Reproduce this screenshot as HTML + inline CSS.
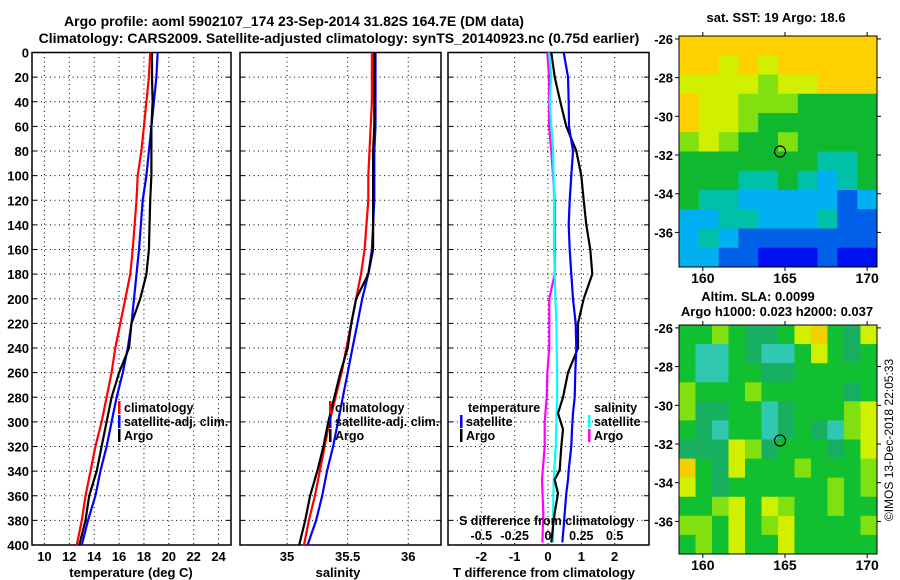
<!DOCTYPE html>
<html><head><meta charset="utf-8"><style>
body{margin:0;background:#fff}
svg{display:block;font-family:"Liberation Sans",sans-serif;font-weight:bold}
</style></head><body>
<svg id="chart" width="900" height="580" viewBox="0 0 900 580">
<text x="294" y="26" font-size="14" text-anchor="middle">Argo profile: aoml 5902107_174 23-Sep-2014 31.82S 164.7E (DM data)</text>
<text x="339" y="43" font-size="14" text-anchor="middle">Climatology: CARS2009. Satellite-adjusted climatology: synTS_20140923.nc (0.75d earlier)</text>
<text x="776" y="22" font-size="13" text-anchor="middle">sat. SST: 19 Argo: 18.6</text>
<text x="758" y="301" font-size="13" text-anchor="middle">Altim. SLA: 0.0099</text>
<text x="777" y="316" font-size="13" text-anchor="middle">Argo h1000: 0.023 h2000: 0.037</text>
<text transform="translate(893,440) rotate(-90)" font-size="12" font-weight="normal" text-anchor="middle">©IMOS 13-Dec-2018 22:05:33</text>
<g id="g"></g>
</svg>
<script>
// depth levels (m)
const depthA = [0,20,40,60,80,100,120,160,180,200,220,240,260,280,300,320,340,360,380,400];
const tempClim = [18.5,18.4,18.2,18.0,17.8,17.5,17.4,17.1,16.9,16.5,16.1,15.7,15.4,15.0,14.6,14.1,13.7,13.3,13.0,12.6];
const tempSat  = [19.1,19.0,18.8,18.6,18.4,18.2,17.9,17.6,17.4,17.2,17.0,16.7,16.3,15.8,15.4,15.0,14.5,14.1,13.5,13.0];
const tempArgo = [18.65,18.65,18.7,18.6,18.6,18.6,18.5,18.4,18.2,17.7,17.0,16.8,16.0,15.4,15.0,14.6,14.2,13.6,13.3,12.8];
const salClim = [35.70,35.70,35.70,35.69,35.68,35.67,35.67,35.64,35.61,35.57,35.53,35.49,35.45,35.40,35.35,35.31,35.27,35.23,35.18,35.14];
const salSat  = [35.73,35.73,35.73,35.73,35.72,35.72,35.72,35.70,35.67,35.62,35.58,35.54,35.50,35.46,35.42,35.38,35.33,35.29,35.24,35.17];
const salArgo = [35.72,35.72,35.72,35.72,35.71,35.71,35.71,35.71,35.67,35.57,35.53,35.50,35.44,35.39,35.34,35.30,35.25,35.19,35.15,35.10];
// difference panel
const depthT = [0,20,40,60,80,100,120,140,160,180,200,220,240,260,280,293,306,320,339,347,358,374,385,398];
const tDiffArgo = [0.10,0.20,0.37,0.55,0.85,1.0,1.07,1.15,1.27,1.33,1.07,0.90,0.90,0.60,0.45,0.30,0.45,0.40,0.35,0.20,0.30,0.20,0.15,0.10];
const tDiffSat  = [0.47,0.60,0.62,0.63,0.75,0.70,0.65,0.62,0.65,0.70,0.75,0.83,0.85,0.82,0.80,0.75,0.72,0.70,0.62,0.60,0.55,0.50,0.47,0.43];
const depthS = [0,20,40,60,80,120,160,180,200,220,240,260,280,300,320,347,374,398];
const sDiffSat  = [0.008,0.025,0.013,0.025,0.038,0.045,0.045,0.05,0.055,0.063,0.065,0.068,0.068,0.063,0.058,0.043,0.038,0.038];
const sDiffArgo = [-0.005,0.008,0.008,0.008,0.025,0.05,0.05,0.05,0.01,0.01,0.01,-0.005,-0.01,-0.025,-0.025,-0.045,-0.035,-0.042];
const tempTicks = [10,12,14,16,18,20,22,24];
const salTicks = [35,35.5,36];
const tdTicks = [-2,-1,0,1,2];
const sdTicks = [-0.5,-0.25,0,0.25,0.5];
const depthTicks = [0,20,40,60,80,100,120,140,160,180,200,220,240,260,280,300,320,340,360,380,400];
const lonTicks = [160,165,170];
const latTicks = [-26,-28,-30,-32,-34,-36];
// map fields (rows from -26 southwards), category index into palette
const sstGrid = [
"7777777777","7767677777","6666566777","7665554444","7665444444","5654454444",
"4444444334","4443343234","4332222212","2233222311","2321111111","2211000100"];
const slaGrid = [
"223211245214","200210024212","200221122222","322232222212","311220122234","210220121034",
"111431222124","521422232223","421222222323","223424322322","332423422223","232422422222"];
const sstPalette = ["#0010f0","#0060e8","#00b0f0","#00c0a8","#10b830","#80e010","#d0f000","#ffd000"];
const slaPalette = ["#30c8b0","#18b060","#10c030","#80e010","#d0f000","#f0d000"];

const NS="http://www.w3.org/2000/svg";
const G=document.getElementById('g');
function mk(t,a,p){const e=document.createElementNS(NS,t);for(const k in a)e.setAttribute(k,a[k]);(p||G).appendChild(e);return e;}
const y0=52.5,y1=545;
const yD=d=>y0+(y1-y0)*d/400;
const panels=[
 {x0:32,x1:231,min:9,max:25,name:'temperature-panel'},
 {x0:240,x1:441,min:34.612,max:36.27,name:'salinity-panel'},
 {x0:448,x1:649,min:-3,max:3.03,name:'difference-panel'}];
function xf(p,v){return p.x0+(v-p.min)/(p.max-p.min)*(p.x1-p.x0);}
function line(p,xs,ds,col,name,scale){
  const pts=xs.map((v,i)=>xf(p,v*(scale||1)).toFixed(1)+','+yD(ds[i]).toFixed(1)).join(' ');
  const l=mk('polyline',{points:pts,fill:'none',stroke:col,'stroke-width':2.2});
  
  
}
function txt(x,y,s,anchor,size,name,col){const t=mk('text',{x:x,y:y,'font-size':size||13,'text-anchor':anchor||'start',fill:col||'#000'});t.textContent=s;
  
  return t;}
panels.forEach((p,pi)=>{
  const r=mk('rect',{x:p.x0,y:y0,width:p.x1-p.x0,height:y1-y0,fill:'#fff',stroke:'#000','stroke-width':1.5});
  
  
  depthTicks.forEach(d=>{ if(d>0&&d<400){const l=mk('line',{x1:p.x0,x2:p.x1,y1:yD(d),y2:yD(d),stroke:'#000','stroke-dasharray':'1,3.5','stroke-width':1});
    
    }
    mk('line',{x1:p.x0,x2:p.x0+5,y1:yD(d),y2:yD(d),stroke:'#000'});mk('line',{x1:p.x1-5,x2:p.x1,y1:yD(d),y2:yD(d),stroke:'#000'});
    if(pi==0) txt(29,yD(d)+5,String(d),'end',13,'depth-tick-label');
  });
  const ticks=pi==0?tempTicks:pi==1?salTicks:tdTicks;
  ticks.forEach(v=>{const x=xf(p,v);
    const l=mk('line',{x1:x,x2:x,y1:y0,y2:y1,stroke:'#000','stroke-dasharray':'1,3.5','stroke-width':1});
    
    
    txt(x,561,String(v),'middle',13,'x-tick-label');});
});
txt(131,577,'temperature (deg C)','middle',13,'x-axis-title-temperature');
txt(338,577,'salinity','middle',13,'x-axis-title-salinity');
txt(544,577,'T difference from climatology','middle',13,'x-axis-title-tdiff');
const P=panels;
line(P[0],tempClim,depthA,'#ff0000','temp-climatology-line');
line(P[0],tempSat,depthA,'#0000ff','temp-satellite-line');
line(P[0],tempArgo,depthA,'#000','temp-argo-line');
line(P[1],salClim,depthA,'#ff0000','sal-climatology-line');
line(P[1],salSat,depthA,'#0000ff','sal-satellite-line');
line(P[1],salArgo,depthA,'#000','sal-argo-line');
line(P[2],sDiffArgo,depthS,'#ff00ff','sdiff-argo-line',4);
line(P[2],sDiffSat,depthS,'#00ffff','sdiff-satellite-line',4);
line(P[2],tDiffArgo,depthT,'#000','tdiff-argo-line');
line(P[2],tDiffSat,depthT,'#0000ff','tdiff-satellite-line');
// S axis inside
txt(459,525,'S difference from climatology','start',12.5,'s-axis-title');
sdTicks.forEach(v=>txt(xf(P[2],v*4),540,String(v),'middle',12.5,'s-tick-label'));
function leg(x,y,col,label,name){const r=mk('rect',{x:x,y:y-11,width:2.5,height:13,fill:col});
  txt(x+6,y,label,'start',12.5,name);}
leg(118,412,'#ff0000','climatology','legend-climatology');
leg(118,426,'#0000ff','satellite-adj. clim.','legend-satellite-adj');
leg(118,440,'#000','Argo','legend-argo');
leg(329,412,'#ff0000','climatology','legend2-climatology');
leg(329,426,'#0000ff','satellite-adj. clim.','legend2-satellite-adj');
leg(329,440,'#000','Argo','legend2-argo');
txt(468,412,'temperature','start',12.5,'legend-temperature-heading');
leg(460,426,'#0000ff','satellite','legend-t-satellite');
leg(460,440,'#000','Argo','legend-t-argo');
txt(594,412,'salinity','start',12.5,'legend-salinity-heading');
leg(588,426,'#00ffff','satellite','legend-s-satellite');
leg(588,440,'#ff00ff','Argo','legend-s-argo');
// maps
function map(top,bottom,grid,pal,name){
  const x0=679,x1=877,lonMin=158.55,lonMax=170.6,latTop=-25.85;
  const pxLat=19.35;
  const lx=lo=>x0+(lo-lonMin)/(lonMax-lonMin)*(x1-x0);
  const ly=la=>top+(latTop-la)*pxLat;
  const rows=grid.length,cols=grid[0].length;
  const cw=(x1-x0)/cols,ch=(bottom-top)/rows;
  grid.forEach((row,ri)=>{for(let ci=0;ci<cols;ci++){
    const c=mk('rect',{x:x0+ci*cw,y:top+ri*ch,width:cw+0.5,height:ch+0.5,fill:pal[+row[ci]]});
    
    }});
  const fr=mk('rect',{x:x0,y:top,width:x1-x0,height:bottom-top,fill:'none',stroke:'#000'});
  
  
  latTicks.forEach(la=>{const y=ly(la);mk('line',{x1:x0-4,x2:x0,y1:y,y2:y,stroke:'#000'});mk('line',{x1:x1,x2:x1+4,y1:y,y2:y,stroke:'#000'});
    txt(673,y+5,String(la),'end',13,name+'-lat-label');});
  lonTicks.forEach(lo=>{const x=lx(lo);mk('line',{x1:x,x2:x,y1:bottom,y2:bottom+4,stroke:'#000'});mk('line',{x1:x,x2:x,y1:top-4,y2:top,stroke:'#000'});
    txt(x,bottom+16,String(lo),'middle',14,name+'-lon-label');});
  const c=mk('circle',{cx:lx(164.7),cy:ly(-31.82),r:5.5,fill:'none',stroke:'#000','stroke-width':1.2});
  
  
}
map(36,267,sstGrid,sstPalette,'sst-map');
map(325,554,slaGrid,slaPalette,'sla-map');
</script>
</body></html>
